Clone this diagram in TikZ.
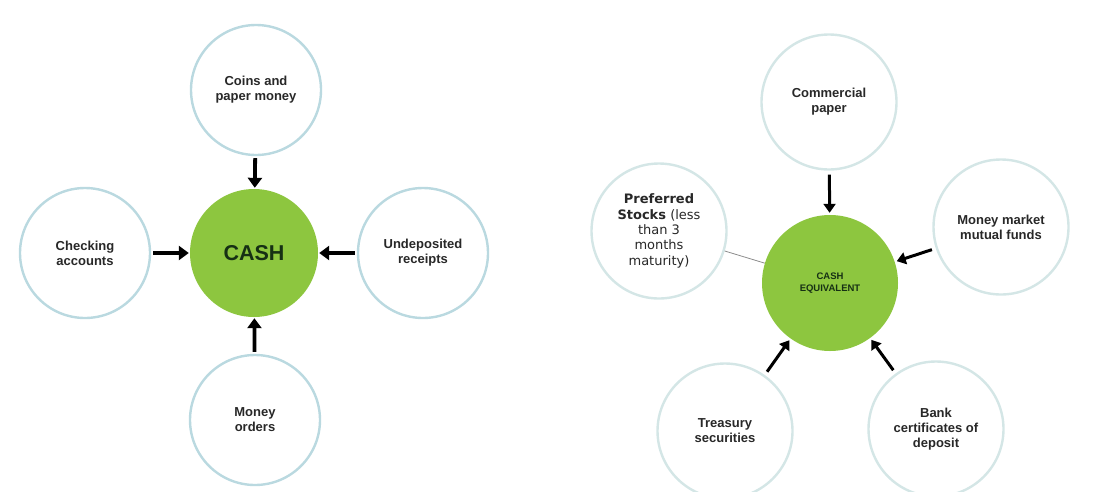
\documentclass[tikz,border=0pt]{standalone}
\usepackage{fontspec}
\setmainfont{Liberation Sans}
\newfontfamily\dvs{DejaVu Sans}
\usetikzlibrary{arrows.meta}
\definecolor{ring}{RGB}{186,217,224}
\definecolor{ringr}{RGB}{212,230,230}
\definecolor{leaf}{RGB}{141,198,63}
\definecolor{txt}{RGB}{40,40,40}
\definecolor{dgreen}{RGB}{22,48,20}
\begin{document}
\begin{tikzpicture}[x=1pt,y=-1pt,
  item/.style={circle,draw=ring,line width=2.4pt,fill=white,minimum size=130pt,inner sep=0pt,align=center,text=txt,font=\fontsize{13}{15}\selectfont\bfseries},
  itemr/.style={item,draw=ringr,minimum size=135pt},
  hub/.style={circle,fill=leaf,inner sep=0pt,align=center,text=dgreen},
  arr/.style={-{Triangle[length=10pt,width=14pt]},line width=3.8pt,black,shorten <=2pt,shorten >=1pt},
  arrr/.style={-{Triangle[length=9pt,width=12pt]},line width=3pt,black,shorten <=4pt,shorten >=2pt}]
\useasboundingbox (0,0) rectangle (1100,491);

% left diagram
\node[hub,minimum size=128pt,font=\fontsize{21.5}{24}\selectfont\bfseries] (cash) at (254,253) {CASH};
\node[item] (coins) at (256,90) {Coins and\\paper money};
\node[item] (check) at (85,253) {Checking\\accounts};
\node[item] (undep) at (423,253) {Undeposited\\receipts};
\node[item] (morders) at (255,420) {Money\\orders};
\draw[arr] (coins) -- (cash);
\draw[arr] (check) -- (cash);
\draw[arr] (undep) -- (cash);
\draw[arr] (morders) -- (cash);

% right diagram
\node[hub,minimum size=136pt,font=\fontsize{9.5}{12.7}\selectfont\bfseries] (ce) at (830,283) {CASH\\EQUIVALENT};
\node[itemr] (comm) at (829,102) {Commercial\\paper};
\node[itemr,font=\dvs\fontsize{13}{15.3}\selectfont] (pref) at (659,231) {\textbf{Preferred}\\\textbf{Stocks} (less\\than 3\\months\\maturity)};
\node[itemr] (mm) at (1001,227) {Money market\\mutual funds};
\node[itemr] (treas) at (725,431) {Treasury\\securities};
\node[itemr] (bank) at (936,429) {Bank\\certificates of\\deposit};
\draw[arrr] (comm) -- (ce);
\draw[arrr] (mm) -- (ce);
\draw[arrr] (treas) -- (ce);
\draw[arrr] (bank) -- (ce);
\draw[line width=0.8pt,black!45] (pref) -- (ce);
\end{tikzpicture}
\end{document}
